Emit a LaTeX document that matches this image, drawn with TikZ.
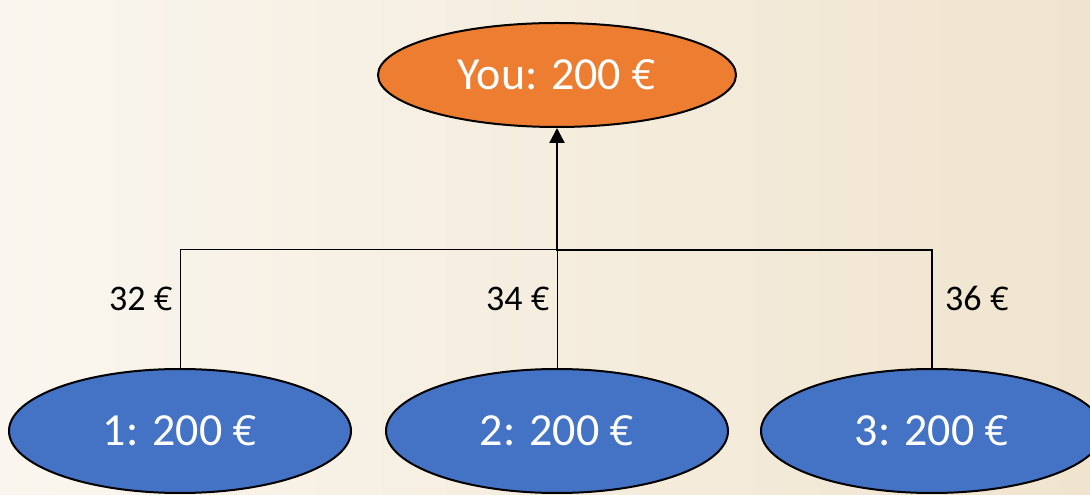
\documentclass[tikz,border=0pt]{standalone}
\usepackage{fontspec}
\setmainfont{Carlito}
\newfontfamily\eurfont[Scale=0.9]{Open Sans}
\newcommand{\eur}{{\eurfont €}}
\usetikzlibrary{shapes.geometric,arrows.meta}
\definecolor{bgL}{HTML}{FAF6EF}
\definecolor{bgR}{HTML}{F0E4CE}
\definecolor{orangeF}{HTML}{ED7D31}
\definecolor{blueF}{HTML}{4472C4}
\begin{document}
\begin{tikzpicture}[x=1pt,y=1pt,
 topnode/.style={ellipse,draw=black,line width=2pt,fill=orangeF,minimum width=358pt,minimum height=104pt,inner sep=0pt,text=white,font=\fontsize{46}{50}\selectfont},
 botnode/.style={ellipse,draw=black,line width=2pt,fill=blueF,minimum width=342pt,minimum height=124pt,inner sep=0pt,text=white,font=\fontsize{46}{50}\selectfont},
 thinline/.style={draw=black,line width=1pt},
 thickline/.style={draw=black,line width=2.2pt},
 amount/.style={font=\fontsize{36}{40}\selectfont,text=black,inner sep=0pt}]
\useasboundingbox (0,0) rectangle (1090,495);
\shade[left color=bgL,right color=bgR] (0,0) rectangle (1090,495);
\node[topnode] (you) at (557,420) {You: 200 \eur};
\node[botnode] (n1) at (180,64) {1: 200 \eur};
\node[botnode] (n2) at (557,64) {2: 200 \eur};
\node[botnode] (n3) at (932,64) {3: 200 \eur};
\coordinate (j) at (557,245);
\draw[thinline] (n1.north) |- (j);
\draw[thinline] (n2.north) -- (j);
\draw[thickline,-{Triangle[width=15pt,length=15pt]}] (n3.north) |- (j) -- (you.south);
\node[amount,anchor=east] (l1) at (173,196) {32 \eur};
\node[amount,anchor=east] (l2) at (550,196) {34 \eur};
\node[amount,anchor=west] (l3) at (945,196) {36 \eur};
\end{tikzpicture}
\end{document}
